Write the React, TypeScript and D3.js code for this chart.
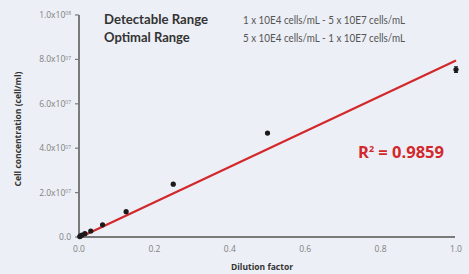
import React from 'react'
import * as d3 from 'd3'

const dilution = [0.00195, 0.0039, 0.0078, 0.0156, 0.03125, 0.0625, 0.125, 0.25, 0.5, 1.0]
const concentration = [0.2e6, 0.5e6, 0.9e6, 1.5e6, 2.7e6, 5.5e6, 11.4e6, 23.8e6, 46.8e6, 75.4e6]
const errorBar = [0, 0, 0, 0, 0, 0, 0, 0, 0, 1.3e6]
const yTicks = [0, 2e7, 4e7, 6e7, 8e7, 1e8]
const xTicks = [0, 0.2, 0.4, 0.6, 0.8, 1.0]
const fitSlope = 7.98e7
const fitIntercept = -0.3e6

const W = 469
const H = 274
const margin = { left: 79, right: 13, top: 15, bottom: 37 }
const font = '"Open Sans", "Noto Sans", sans-serif'
const annoFont = 'Lato, "Open Sans", sans-serif'

export default function App() {
  const x = d3.scaleLinear().domain([0, 1]).range([margin.left, W - margin.right])
  const y = d3.scaleLinear().domain([0, 1e8]).range([H - margin.bottom, margin.top])
  const line = d3
    .line<number>()
    .x((d) => x(d))
    .y((d) => y(fitSlope * d + fitIntercept))

  const yLabel = (v: number) => {
    if (v === 0) return { base: '0.0', exp: '' }
    const e = Math.floor(Math.log10(v))
    return { base: (v / Math.pow(10, e)).toFixed(1) + 'x10', exp: String(e).padStart(2, '0') }
  }

  return (
    <svg
      width={W}
      height={H}
      style={{ position: 'absolute', left: 0, top: 0, display: 'block', background: '#eceff5' }}
      fontFamily={font}
    >
      <rect width={W} height={H} fill="#eceff5" />
      {/* axes */}
      <line x1={x(0)} x2={x(0)} y1={y(1e8)} y2={y(0)} stroke="#7a7a7a" strokeWidth={2} />
      <line x1={x(0) - 1} x2={x(1) - 1} y1={y(0)} y2={y(0)} stroke="#7a7a7a" strokeWidth={2} />
      {yTicks.map((t) => {
        const l = yLabel(t)
        return (
          <g key={t} transform={`translate(0,${y(t)})`}>
            <line x1={x(0) - 4} x2={x(0)} stroke="#7a7a7a" strokeWidth={1.2} />
            <text x={x(0) - 8} dy="0.35em" textAnchor="end" fontSize={8.5} fill="#808080">
              {l.base}
              {l.exp && (
                <tspan fontSize={5} dy="-0.5em">
                  {l.exp}
                </tspan>
              )}
            </text>
          </g>
        )
      })}
      {xTicks.map((t) => (
        <text key={t} x={x(t)} y={y(0) + 15} textAnchor="middle" fontSize={8.5} fill="#808080">
          {t.toFixed(1)}
        </text>
      ))}
      <text x={262} y={270} textAnchor="middle" fontSize={8.5} fontWeight="bold" fill="#333">
        Dilution factor
      </text>
      <text
        transform={`translate(21,${(y(0) + y(1e8)) / 2 + 3}) rotate(-90)`}
        textAnchor="middle"
        fontSize={8.5}
        fontWeight="bold"
        fill="#333"
      >
        Cell concentration (cell/ml)
      </text>

      {/* fit line */}
      <path d={line([0, 1]) ?? ''} stroke="#d3282b" strokeWidth={2.2} fill="none" />

      {/* points */}
      {dilution.map((d, i) => (
        <g key={d}>
          {errorBar[i] > 0 && (
            <g stroke="#222" strokeWidth={1}>
              <line x1={x(d)} x2={x(d)} y1={y(concentration[i] - errorBar[i])} y2={y(concentration[i] + errorBar[i])} />
              <line x1={x(d) - 2} x2={x(d) + 2} y1={y(concentration[i] - errorBar[i])} y2={y(concentration[i] - errorBar[i])} />
              <line x1={x(d) - 2} x2={x(d) + 2} y1={y(concentration[i] + errorBar[i])} y2={y(concentration[i] + errorBar[i])} />
            </g>
          )}
          <circle cx={x(d)} cy={y(concentration[i])} r={2.6} fill="#1a1a1a" />
        </g>
      ))}

      {/* annotations */}
      <g fontSize={12} fill="#555" fontFamily={annoFont}>
        <text x={104} y={24} fontWeight="bold" fill="#333" fontSize={13} textLength={104} lengthAdjust="spacingAndGlyphs">Detectable Range</text>
        <text x={243} y={24} textLength={162} lengthAdjust="spacingAndGlyphs">1 x 10E4 cells/mL - 5 x 10E7 cells/mL</text>
        <text x={104} y={42} fontWeight="bold" fill="#333" fontSize={13}>Optimal Range</text>
        <text x={243} y={42} textLength={162} lengthAdjust="spacingAndGlyphs">5 x 10E4 cells/mL - 1 x 10E7 cells/mL</text>
      </g>
      <text x={358} y={158} fontSize={16.5} fontWeight="bold" fill="#d3282b">
        R<tspan fontSize={9} dy="-6">2</tspan>
        <tspan dy="6"> = 0.9859</tspan>
      </text>
    </svg>
  )
}
